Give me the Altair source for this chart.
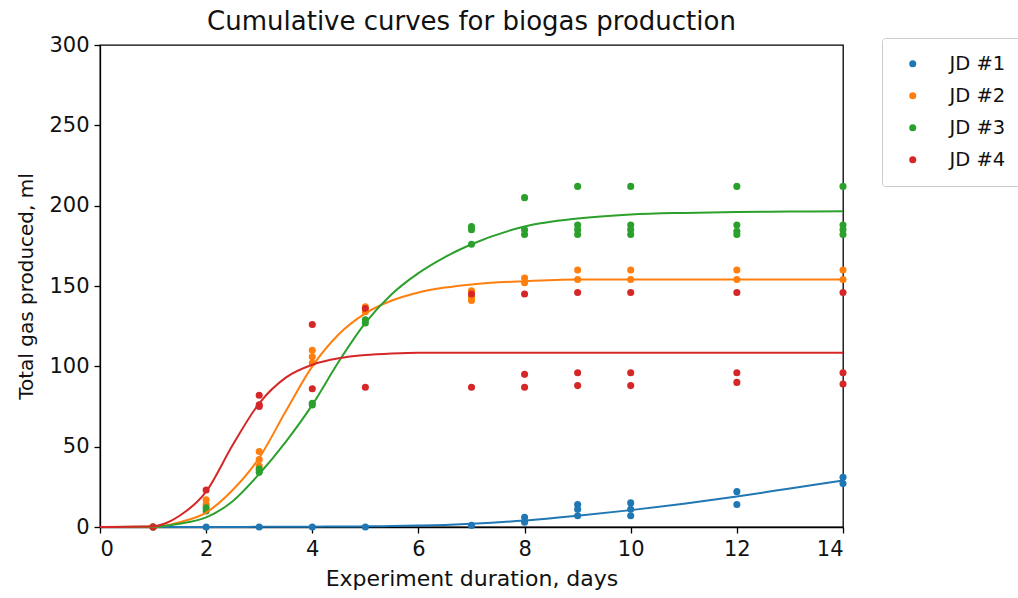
import altair as alt
import pandas as pd

series = ["JD #1", "JD #2", "JD #3", "JD #4"]
colors = ["#1f77b4", "#ff7f0e", "#2ca02c", "#d62728"]

# Measured points (day, value) per series
jd1_x = [1, 2, 3, 4, 5, 7, 8, 8, 9, 9, 9, 10, 10, 10, 12, 12, 14, 14]
jd1_y = [0, 0, 0, 0, 0, 1, 6, 3, 14, 11, 7, 15, 11, 7, 22, 14, 31, 27]

jd2_x = [1, 2, 2, 3, 3, 3, 4, 4, 4, 5, 5, 7, 7, 7, 8, 8, 9, 9, 10, 10, 12, 12, 14, 14]
jd2_y = [0, 17, 14, 47, 42, 38, 110, 106, 102, 137, 134, 147, 143, 141, 155, 152, 160, 154, 160, 154, 160, 154, 160, 154]

jd3_x = [1, 2, 2, 3, 3, 4, 4, 5, 5, 7, 7, 7, 8, 8, 8, 9, 9, 9, 9, 10, 10, 10, 10, 12, 12, 12, 12, 14, 14, 14, 14]
jd3_y = [0, 10, 12, 34, 36, 76, 77, 127, 129, 187, 185, 176, 205, 185, 182, 212, 188, 185, 182, 212, 188, 185, 182, 212, 188, 184, 182, 212, 188, 185, 182]

jd4_x = [1, 2, 3, 3, 3, 4, 4, 5, 5, 7, 7, 8, 8, 8, 9, 9, 9, 10, 10, 10, 12, 12, 12, 14, 14, 14]
jd4_y = [0, 23, 82, 76, 75, 126, 86, 136, 87, 145, 87, 145, 95, 87, 146, 96, 88, 146, 96, 88, 146, 96, 90, 146, 96, 89]

# Fitted curves
curve_x = [0, 1, 1.25, 1.5, 2, 2.5, 3, 3.5, 4, 4.5, 5, 5.5, 6, 6.5, 7, 8, 9, 10, 11, 12, 13, 14]
jd1_fit = [0, 0, 0, 0, 0, 0, 0.1, 0.1, 0.2, 0.3, 0.4, 0.6, 0.9, 1.3, 2, 4, 7, 10.5, 14.5, 19, 24, 29]
jd2_fit = [0, 0.2, 1, 3, 9, 23, 43, 72, 100, 120, 133, 141, 146, 149, 151, 153, 154, 154, 154, 154, 154, 154]
jd3_fit = [0, 0.2, 0.8, 2, 6, 16, 33, 53, 76, 103, 127, 145, 158, 168, 176, 187, 192, 194.5, 195.5, 196, 196.3, 196.5]
jd4_fit = [0, 0.5, 2.5, 7, 22, 51, 77, 93, 101, 105, 107, 108, 108.5, 108.5, 108.5, 108.5, 108.5, 108.5, 108.5, 108.5, 108.5, 108.5]

pts_rows = []
for name, xs, ys in zip(series, [jd1_x, jd2_x, jd3_x, jd4_x], [jd1_y, jd2_y, jd3_y, jd4_y]):
    for a, b in zip(xs, ys):
        pts_rows.append({"series": name, "day": a, "gas": b})
pts = pd.DataFrame(pts_rows)

fit_rows = []
for name, ys in zip(series, [jd1_fit, jd2_fit, jd3_fit, jd4_fit]):
    for a, b in zip(curve_x, ys):
        fit_rows.append({"series": name, "day": a, "gas": b})
fits = pd.DataFrame(fit_rows)

color_scale = alt.Scale(domain=series, range=colors)
font = "DejaVu Sans"

xenc = alt.X("day:Q", scale=alt.Scale(domain=[0, 14], nice=False),
             axis=alt.Axis(values=list(range(0, 15, 2)), title="Experiment duration, days",
                           format="d", titleFontSize=22, titlePadding=9))
yenc = alt.Y("gas:Q", scale=alt.Scale(domain=[0, 300], nice=False),
             axis=alt.Axis(values=list(range(0, 301, 50)), title="Total gas produced, ml",
                           titleFontSize=20, titlePadding=12))

points = alt.Chart(pts).mark_circle(size=50, opacity=1).encode(
    x=xenc, y=yenc,
    color=alt.Color("series:N", scale=color_scale,
                    legend=alt.Legend(title=None, orient="none", legendX=782, legendY=-7,
                                      padding=16, symbolSize=50, symbolType="circle",
                                      symbolOffset=5,
                                      labelFontSize=19.5, labelFont=font, labelColor="#111",
                                      labelOffset=27, rowPadding=11,
                                      strokeColor="#cccccc", fillColor="white",
                                      cornerRadius=3, symbolStrokeWidth=0)),
)

lines = alt.Chart(fits).mark_line(strokeWidth=2, interpolate="monotone").encode(
    x="day:Q", y="gas:Q",
    color=alt.Color("series:N", scale=color_scale, legend=None),
    detail="series:N",
)

chart = alt.layer(points, lines).properties(
    width=743, height=482,
    title=alt.TitleParams("Cumulative curves for biogas production", fontSize=26,
                          font=font, fontWeight="normal", color="#111", offset=11, dy=12),
    autosize=alt.AutoSizeParams(type="none"),
    padding={"left": 100, "top": 45, "right": 175, "bottom": 71},
).configure_view(stroke="black", strokeWidth=1.3).configure_axis(
    grid=False, domainColor="black", domainWidth=1.3, tickColor="black", tickWidth=1.3,
    tickSize=6, labelFontSize=21, labelFont=font, labelColor="#111", titleFont=font,
    titleFontWeight="normal", titleColor="#111", labelPadding=5,
)

chart.save("out.html", embed_options={"renderer": "svg", "actions": False})
